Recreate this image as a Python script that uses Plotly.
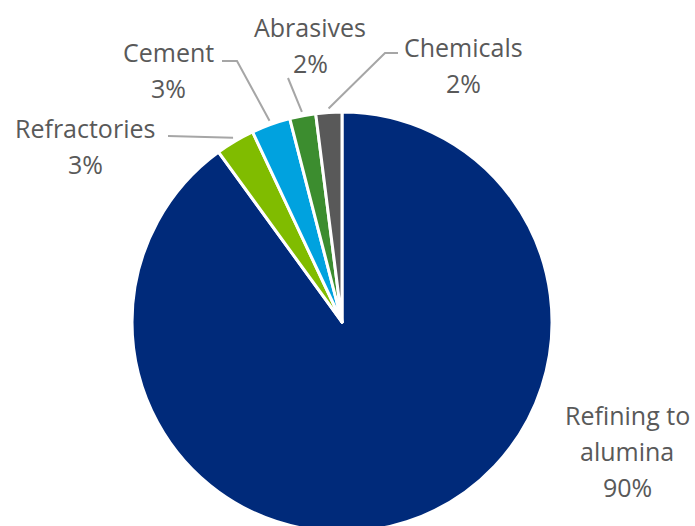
import math
import plotly.graph_objects as go

# ---- data ----
labels = ["Refining to alumina", "Refractories", "Cement", "Abrasives", "Chemicals"]
values = [90, 3, 3, 2, 2]
label_lines = [["Refining to", "alumina"], ["Refractories"], ["Cement"], ["Abrasives"], ["Chemicals"]]
colors = ["#002A7A", "#80BC00", "#00A2DF", "#3C8D2F", "#595959"]

# ---- layout / style ----
W, H = 695, 540
CX, CY, R = 342, 322, 210
FONT = "Open Sans"
FS = 25
TXT = "#595959"
LINE_C = "#A6A6A6"
STEP = 36

# label placement (pixel centre x, first-line centre y) and leader elbows (pixels)
label_pos = [(627, 415), (85, 128), (168, 52), (310, 27), (463, 47)]
leader_pts = [None, [(168, 136)], [(222, 61), (237, 61)], [(288, 78)], [(398, 53), (385, 53)]]


def px(x):
    return x / W


def py(y):
    return 1 - y / H


fig = go.Figure(go.Pie(
    labels=labels,
    values=values,
    sort=False,
    direction="clockwise",
    rotation=0,
    marker=dict(colors=colors, line=dict(color="white", width=3)),
    textinfo="none",
    hoverinfo="label+percent",
    showlegend=False,
    domain=dict(x=[(CX - R) / W, (CX + R) / W], y=[(H - CY - R) / H, (H - CY + R) / H]),
))

total = sum(values)
cum = 0.0
annotations = []
shapes = []
for i, v in enumerate(values):
    mid = (cum + v / 2) / total * 2 * math.pi
    cum += v
    pct = f"{round(v / total * 100)}%"
    lines = label_lines[i] + [pct]
    lx, ly = label_pos[i]
    for k, t in enumerate(lines):
        annotations.append(dict(
            x=px(lx), y=py(ly + k * STEP), xref="paper", yref="paper",
            text=t, showarrow=False, xanchor="center", yanchor="middle",
            font=dict(family=FONT, size=FS, color=TXT),
        ))
    if leader_pts[i]:
        rr = R + 4
        ex = CX + rr * math.sin(mid)
        ey = CY - rr * math.cos(mid)
        pts = leader_pts[i] + [(ex, ey)]
        path = "M " + " L ".join(f"{px(a):.5f},{py(b):.5f}" for a, b in pts)
        shapes.append(dict(type="path", xref="paper", yref="paper", path=path,
                           line=dict(color=LINE_C, width=2)))

fig.update_layout(
    width=W, height=H,
    margin=dict(l=0, r=0, t=0, b=0),
    paper_bgcolor="white", plot_bgcolor="white",
    annotations=annotations, shapes=shapes,
)

fig.write_html(
    "out.html",
    config={"displayModeBar": False},
    post_script="document.body.style.margin='0';document.body.style.overflow='hidden';"
                "document.documentElement.style.overflow='hidden';",
)
